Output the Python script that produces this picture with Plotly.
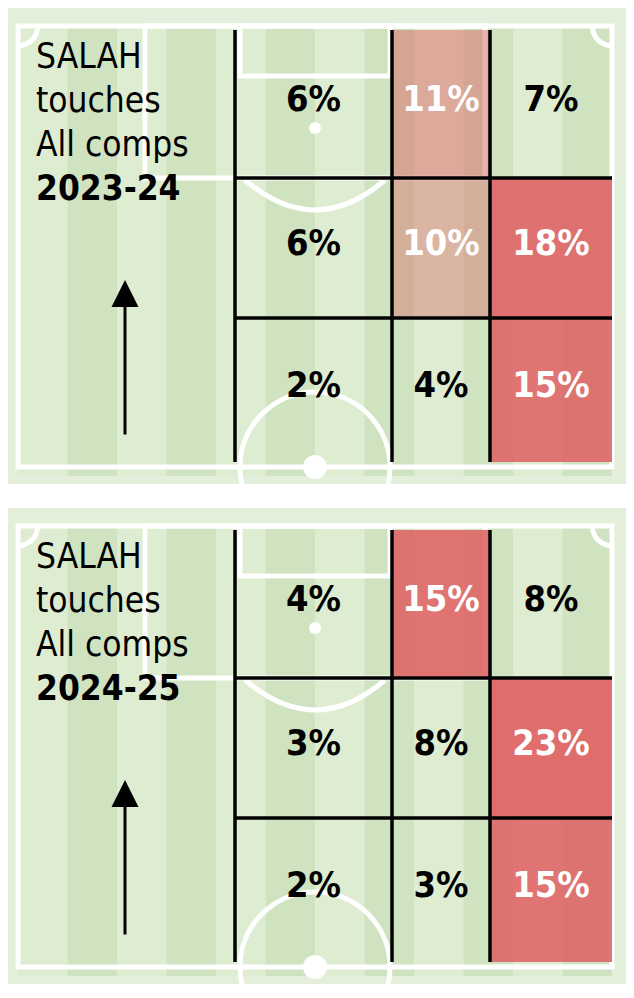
import plotly.graph_objects as go

seasons = ["2023-24", "2024-25"]
# rows top -> bottom, cols left -> right
touches_2023 = [[6, 11, 7], [6, 10, 18], [2, 4, 15]]
touches_2024 = [[4, 15, 8], [3, 8, 23], [2, 3, 15]]
all_values = [touches_2023, touches_2024]

col_edges = [235, 392, 490, 612]
row_edges = [30, 178, 318, 462]
offsets = [0, 500]

W, H = 634, 998
SH = 8  # page body margin compensation
fig = go.Figure()
shapes = []
annotations = []
DARK = "#cfe3c0"
LIGHT = "#deedd2"
WL = dict(color="white", width=5)

for p, off in enumerate(offsets):
    shapes.append(dict(type="rect", x0=4, x1=630, y0=8 + off, y1=484 + off,
                       fillcolor="#e3efda", line=dict(width=0), layer="below"))
    n = 12
    x0, x1 = 18, 612
    w = (x1 - x0) / n
    for i in range(n):
        shapes.append(dict(type="rect", x0=x0 + i * w, x1=x0 + (i + 1) * w,
                           y0=26 + off, y1=476 + off,
                           fillcolor=DARK if i % 2 else LIGHT, line=dict(width=0), layer="below"))
    shapes.append(dict(type="rect", x0=18, x1=612, y0=26 + off, y1=467 + off,
                       line=WL, layer="below"))
    shapes.append(dict(type="rect", x0=145, x1=485, y0=26 + off, y1=178 + off, line=WL, layer="below"))
    shapes.append(dict(type="rect", x0=240, x1=390, y0=26 + off, y1=76 + off, line=WL, layer="below"))
    shapes.append(dict(type="circle", x0=309, x1=321, y0=122 + off, y1=134 + off,
                       fillcolor="white", line=dict(width=0), layer="below"))
    shapes.append(dict(type="path", path=f"M 245 {180+off} Q 315 {240+off} 385 {180+off}",
                       line=WL, layer="below"))
    shapes.append(dict(type="circle", x0=240, x1=390, y0=392 + off, y1=542 + off, line=WL, layer="below"))
    shapes.append(dict(type="circle", x0=303, x1=327, y0=455 + off, y1=479 + off,
                       fillcolor="white", line=dict(width=0), layer="below"))
    shapes.append(dict(type="path", path=f"M 18 {46+off} Q 36 {44+off} 38 {26+off}", line=WL, layer="below"))
    shapes.append(dict(type="path", path=f"M 612 {46+off} Q 594 {44+off} 592 {26+off}", line=WL, layer="below"))
    shapes.append(dict(type="rect", x0=4, x1=630, y0=484 + off, y1=500 + off + 8,
                       fillcolor="white", line=dict(width=0), layer="below"))

    vals = all_values[p]
    ry = [r + off for r in row_edges]
    scale = [[0, "rgba(222,105,105,0)"], [8 / 23, "rgba(222,105,105,0)"],
             [9.5 / 23, "rgba(215,110,105,0.40)"], [11 / 23, "rgba(218,108,105,0.52)"],
             [15 / 23, "rgba(222,105,105,0.92)"], [1, "rgba(224,104,104,0.96)"]]
    fig.add_trace(go.Heatmap(x=col_edges, y=ry, z=vals, zmin=0, zmax=23, colorscale=scale,
                             showscale=False, hoverinfo="skip"))
    xs, ys, ts, cs = [], [], [], []
    for r in range(3):
        for c in range(3):
            xs.append((col_edges[c] + col_edges[c + 1]) / 2)
            ys.append((ry[r] + ry[r + 1]) / 2 - 2)
            v = vals[r][c]
            ts.append(f"<b>{v}%</b>")
            cs.append("white" if v >= 10 else "black")
    fig.add_trace(go.Scatter(x=xs, y=ys, mode="text", text=ts, hoverinfo="skip",
                             textfont=dict(family="DejaVu Sans Condensed", size=36, color=cs)))
    GL = dict(color="black", width=3.5)
    for cx in col_edges[:3]:
        shapes.append(dict(type="line", x0=cx, x1=cx, y0=ry[0], y1=ry[3], line=GL))
    for yy in ry[1:3]:
        shapes.append(dict(type="line", x0=col_edges[0], x1=col_edges[3], y0=yy, y1=yy, line=GL))

    for i, line in enumerate(["SALAH", "touches", "All comps"]):
        annotations.append(dict(x=34, y=56 + i * 44 + off, text=line, showarrow=False,
                                xanchor="left", yanchor="middle",
                                font=dict(family="DejaVu Sans Condensed", size=35, color="black")))
    annotations.append(dict(x=34, y=188 + off, text=f"<b>{seasons[p]}</b>", showarrow=False,
                            xanchor="left", yanchor="middle",
                            font=dict(family="DejaVu Sans Condensed", size=35, color="black")))
    annotations.append(dict(x=125, y=280 + off, ax=125, ay=436 + off, xref="x", yref="y",
                            axref="x", ayref="y", text="", showarrow=True, arrowhead=2,
                            arrowsize=1.8, arrowwidth=3, arrowcolor="black"))

fig.update_layout(width=W, height=H, margin=dict(l=0, r=0, t=0, b=0),
                  paper_bgcolor="white", plot_bgcolor="white",
                  xaxis=dict(range=[SH, W + SH], visible=False, fixedrange=True),
                  yaxis=dict(range=[H + SH, SH], visible=False, fixedrange=True),
                  shapes=shapes, annotations=annotations, showlegend=False)
fig.write_html("out.html", config={"displayModeBar": False})
